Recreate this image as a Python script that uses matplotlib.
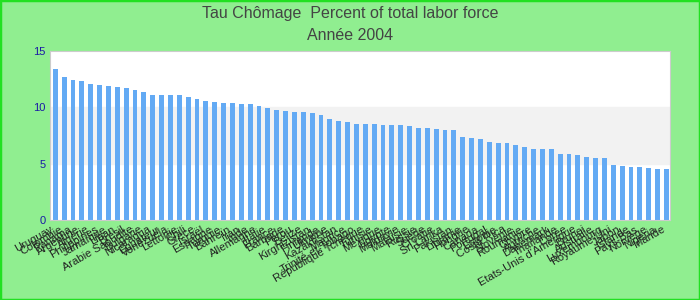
import matplotlib
import matplotlib.pyplot as plt
from matplotlib.patches import Rectangle
from matplotlib.transforms import ScaledTranslation

matplotlib.use('Agg')
plt.rcParams['font.family'] = ['Liberation Sans', 'DejaVu Sans']

countries = ['Uruguay', 'Colombie', 'Panama', 'Argentine', 'Algérie', 'Philippines',
             'Jamaïque', 'Liban', 'Brésil', 'Arabie Saoudite', 'Bulgarie', 'Nicaragua',
             'Equateur', 'Venezuela', 'Lettonie', 'Chili', 'Grèce', 'Israël', 'Espagne',
             'Turquie', 'Bahreïn', 'Iran', 'Inde', 'Allemagne', 'Italie', 'France',
             'Barbade', 'Pérou', 'Belize', 'Kirghizistan', 'Finlande', 'Ukraine',
             'Kazakhstan', 'Maurice', 'Trinité-et-Tobago', 'République Tchèque', 'Tunisie',
             'Mexique', 'Egypte', 'Moldavie', 'Malaisie', 'Russie', 'Suède', 'Croatie',
             'Sri Lanka', 'Pakistan', 'Lituanie', 'Hongrie', 'Canada', 'Portugal',
             'Estonie', 'Costa Rica', 'Slovénie', 'Roumanie', 'Chypre', 'Autriche',
             'Danemark', 'Thaïlande', 'Corée', "Etats-Unis d'Amérique", 'Brunei',
             'Australie', 'Luxembourg', 'Royaume-Uni', 'Japon', 'Islande', 'Pays-Bas',
             'Norvège', 'Nigeria', 'Irlande']
unemployment = [13.4, 12.7, 12.4, 12.3, 12.1, 12.0, 11.9, 11.8, 11.7, 11.5,
                11.4, 11.1, 11.1, 11.1, 11.1, 10.9, 10.7, 10.6, 10.5, 10.4,
                10.4, 10.3, 10.3, 10.1, 9.9, 9.8, 9.7, 9.6, 9.6, 9.5,
                9.3, 9.0, 8.8, 8.7, 8.5, 8.5, 8.5, 8.4, 8.4, 8.4,
                8.3, 8.2, 8.2, 8.1, 8.0, 8.0, 7.4, 7.3, 7.2, 6.9,
                6.8, 6.8, 6.7, 6.5, 6.3, 6.3, 6.3, 5.9, 5.9, 5.8,
                5.6, 5.5, 5.5, 4.9, 4.8, 4.7, 4.7, 4.6, 4.5, 4.5]
y_ticks = [0, 5, 10, 15]

fig = plt.figure(figsize=(7, 3), dpi=100, facecolor='#90ee90')
fig.patches.append(Rectangle((0, 0), 1, 1, transform=fig.transFigure, fill=False,
                             edgecolor='#22e022', linewidth=2.5))
ax = fig.add_axes([0.0714, 0.2667, 0.8857, 0.5633])
ax.set_facecolor('white')
ax.axhspan(5, 10, color='#f2f2f2', zorder=0)

x = range(len(countries))
ax.bar(x, unemployment, width=0.56, color='#63aaf4', zorder=2)

ax.set_xlim(-0.6, len(countries) - 0.6)
ax.set_ylim(0, 15)
ax.set_yticks(y_ticks)
ax.set_yticklabels([str(t) for t in y_ticks], color='#1a1aa6', fontsize=8)
ax.set_xticks(list(x))
ax.set_xticklabels(countries, rotation=30, ha='right', fontsize=8, color='#222222')
shift = ScaledTranslation(-5 / 72, -1 / 72, fig.dpi_scale_trans)
for label in ax.get_xticklabels():
    label.set_transform(label.get_transform() + shift)
ax.tick_params(axis='both', length=0, pad=3)
for spine in ax.spines.values():
    spine.set_color('#cccccc')

fig.text(0.5, 0.955, 'Tau Chômage  Percent of total labor force', ha='center', va='center',
         fontsize=11.5, color='#444444')
fig.text(0.5, 0.88, 'Année 2004', ha='center', va='center', fontsize=11.5, color='#444444')

fig.savefig('out.png', dpi=100, facecolor=fig.get_facecolor())
